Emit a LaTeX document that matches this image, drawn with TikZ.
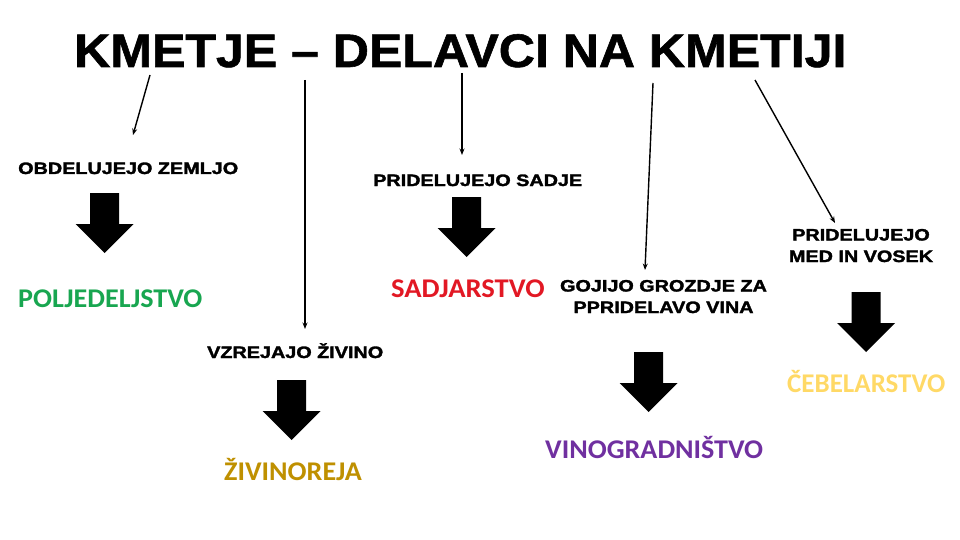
\documentclass[tikz,border=0pt]{standalone}
\usepackage{fontspec}
\usepackage{graphicx}
\usetikzlibrary{arrows.meta}
\newfontfamily\titlefont{Liberation Sans Bold}[FakeBold=1.2]
\newfontfamily\blackfont{Liberation Sans Bold}[FakeBold=1.8]
\newfontfamily\calfont{Carlito}
\definecolor{cgreen}{RGB}{24,166,80}
\definecolor{cred}{RGB}{226,24,36}
\definecolor{cgold}{RGB}{191,144,0}
\definecolor{clight}{RGB}{255,217,102}
\definecolor{cpurple}{RGB}{112,48,160}
\newcommand{\wide}[1]{\scalebox{1.2}[1]{#1}}
\newcommand{\rwide}[1]{\scalebox{1.04}[1]{#1}}
\tikzset{
  ttl/.style={inner sep=0pt, anchor=base west, font=\titlefont\fontsize{47}{50}\selectfont},
  lbl/.style={inner sep=0pt, anchor=base west, font=\blackfont\fontsize{16.5}{21.5}\selectfont},
  lbl2/.style={inner sep=0pt, anchor=base, align=center, font=\blackfont\fontsize{16.5}{21.5}\selectfont},
  res/.style={inner sep=0pt, anchor=base west, font=\calfont\bfseries\fontsize{27}{29}\selectfont},
  thin/.style={line width=1.4pt, -{Stealth[length=6.5pt,width=5pt]}},
  blockarrow/.pic={\fill[black] (-14.5,0) -- (14.5,0) -- (14.5,31) -- (29,31) -- (0,60) -- (-29,31) -- (-14.5,31) -- cycle;}
}
\begin{document}
\begin{tikzpicture}[x=1pt,y=-1pt]
\useasboundingbox (0,0) rectangle (960,540);
\fill[white] (0,0) rectangle (960,540);
% title
\node[ttl] (title) at (74,67) {\scalebox{1.065}[1]{KMETJE – DELAVCI NA KMETIJI}};
% labels
\node[lbl] (zem) at (18,174) {\wide{OBDELUJEJO ZEMLJO}};
\node[lbl] (sad) at (373,186) {\wide{PRIDELUJEJO SADJE}};
\node[lbl] (ziv) at (207,358) {\wide{VZREJAJO ŽIVINO}};
\node[lbl2] (gro) at (663.5,313) {\wide{GOJIJO GROZDJE ZA}\\\wide{PPRIDELAVO VINA}};
\node[lbl2] (med) at (861,262) {\wide{PRIDELUJEJO}\\\wide{MED IN VOSEK}};
% results
\node[res, text=cgreen] (polj) at (18,307) {\rwide{POLJEDELJSTVO}};
\node[res, text=cred] (sadj) at (391,297) {\scalebox{1.06}[1]{SADJARSTVO}};
\node[res, text=cgold] (zivi) at (224,480) {\rwide{ŽIVINOREJA}};
\node[res, text=cpurple] (vino) at (545,458) {\rwide{VINOGRADNIŠTVO}};
\node[res, text=clight] (cebe) at (787,392) {ČEBELARSTVO};
% block arrows
\pic at (104.5,193) {blockarrow};
\pic at (466.5,197) {blockarrow};
\pic at (291.5,380) {blockarrow};
\pic at (648.5,352) {blockarrow};
\pic at (866,292) {blockarrow};
% thin arrows
\coordinate (s1) at (150,75);  \coordinate (e1) at (133,135);
\coordinate (s2) at (305,80);  \coordinate (e2) at (305,329);
\coordinate (s3) at (462,73);  \coordinate (e3) at (462,155);
\coordinate (s4) at (653,83);  \coordinate (e4) at (645,270);
\coordinate (s5) at (755,80);  \coordinate (e5) at (835,223);
\draw[thin] (s1) -- (e1);
\draw[thin] (s2) -- (e2);
\draw[thin] (s3) -- (e3);
\draw[thin] (s4) -- (e4);
\draw[thin] (s5) -- (e5);
\end{tikzpicture}
\end{document}
